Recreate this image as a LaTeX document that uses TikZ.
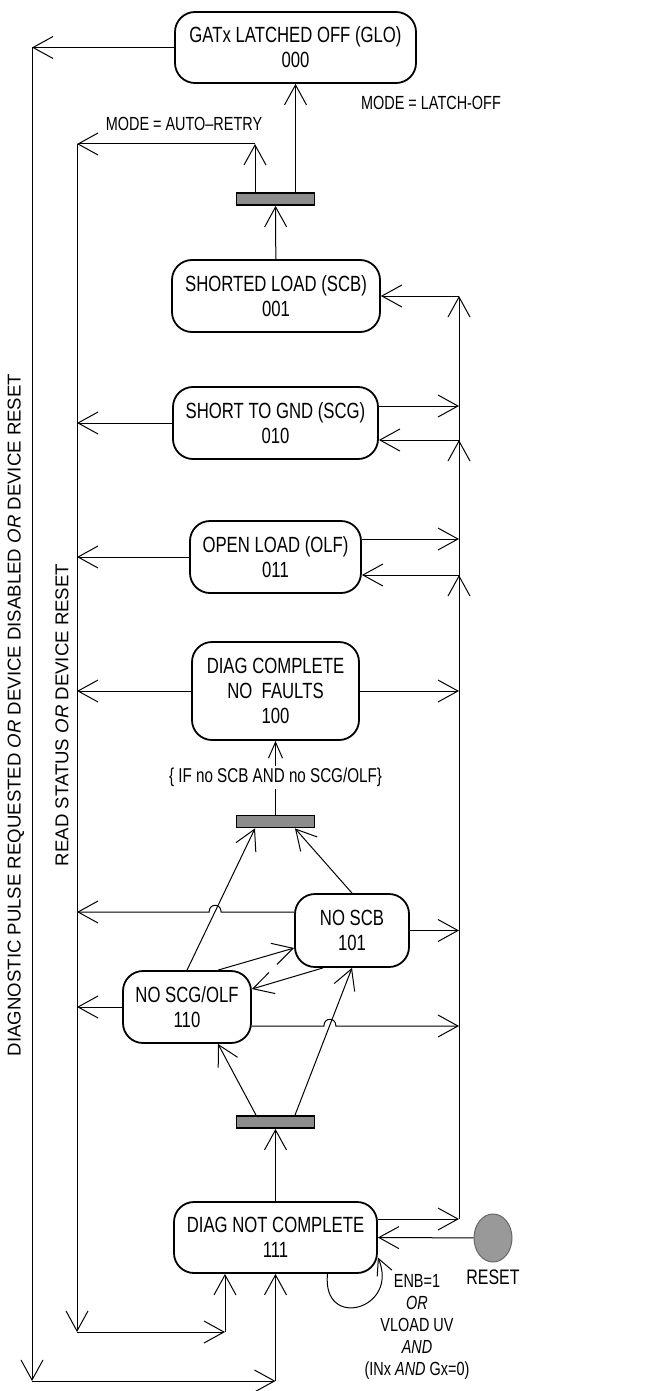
\documentclass[tikz,border=0pt]{standalone}
\usepackage{fontspec}
\setmainfont[FakeStretch=0.76]{Liberation Sans}
\newfontfamily\sidefont{Liberation Sans}
\usetikzlibrary{arrows.meta, calc, positioning, shapes.geometric}

\begin{document}
\begin{tikzpicture}[x=0.5pt, y=-0.5pt, line width=0.5pt,
    >={Straight Barb[length=10pt, width=11pt]},
    state/.style={draw, rounded corners=10pt, line width=0.9pt, align=center, inner sep=0pt,
      font=\fontsize{11}{12.5}\selectfont},
    bar/.style={draw, fill=black!45, line width=0.9pt, minimum width=39pt, minimum height=6pt, inner sep=0pt},
    lab/.style={font=\fontsize{9.5}{11}\selectfont, align=center},
    side/.style={font=\sidefont\fontsize{9.3}{11}\selectfont, rotate=90}]
  \useasboundingbox (0,0) rectangle (656,1391);
  \node[state, minimum width=120.5pt, minimum height=35.5pt] (glo) at (295.5,47.5) {GATx LATCHED OFF (GLO)\\000};
  \node[state, minimum width=104pt, minimum height=36pt] (scb) at (276,296) {SHORTED LOAD (SCB)\\001};
  \node[state, minimum width=102.5pt, minimum height=36pt] (scg) at (275.5,423) {SHORT TO GND (SCG)\\010};
  \node[state, minimum width=85.5pt, minimum height=36pt] (olf) at (275.5,557) {OPEN LOAD (OLF)\\011};
  \node[state, minimum width=83.5pt, minimum height=49pt] (dcnf) at (275.5,691) {DIAG COMPLETE\\NO~ FAULTS\\100};
  \node[state, minimum width=57pt, minimum height=36.5pt] (nscb) at (352,930.5) {NO SCB\\101};
  \node[state, minimum width=64pt, minimum height=36pt] (nscg) at (187,1007) {NO SCG/OLF\\110};
  \node[state, minimum width=101.5pt, minimum height=35.5pt] (dnc) at (275.5,1237.5) {DIAG NOT COMPLETE\\111};
  \node[bar] (barT) at (275.5,199) {};
  \node[bar] (barM) at (275.5,821.5) {};
  \node[bar] (barB) at (275.5,1122) {};
  \node[ellipse, draw=black!60, fill=black!40, minimum width=19pt, minimum height=24pt, inner sep=0pt] (reset) at (493,1238) {};
  \node[font=\fontsize{10.5}{12}\selectfont, below=0pt of reset] (resetlab) {RESET};
  \node[lab] (auto) at (184,124) {MODE = AUTO--RETRY};
  \node[lab] (latch) at (431,103) {MODE = LATCH-OFF};
  \node[lab] (enb) at (417,1327) {ENB=1\\\textit{OR}\\VLOAD UV\\\textit{AND}\\(INx \textit{AND} Gx=0)};
  \node[side] (diag) at (16,715) {DIAGNOSTIC PULSE REQUESTED \textit{OR} DEVICE DISABLED \textit{OR} DEVICE RESET};
  \node[side] (read) at (62,715) {READ STATUS \textit{OR} DEVICE RESET};

  \coordinate (oB) at (32,1381);
  \coordinate (iT) at (77,144);
  \coordinate (iB) at (77,1332);
  \coordinate (rB) at (459,1219);

  \draw[->] (glo.west) -- (glo.west -| oB) coordinate (o1);
  \draw[->] (o1) -- (oB);
  \draw[->] (oB) -- (oB -| dnc.south) coordinate (o2);
  \draw[->] (o2) -- (dnc.south);

  \draw[->] ($(barT.north)+(-20.5,0)$) coordinate (a) -- (a |- iT) coordinate (b);
  \draw[->] (b) -- (iT);
  \draw[->] (iT) -- (iB);
  \draw[->] (iB) -- ++(148,0) coordinate (c);
  \draw[->] (c) -- (c |- dnc.south);

  \draw[->] (barT.north -| glo.south) -- (glo.south);
  \draw[->] (scb) -- (barT);

  \draw[->] ($(dnc.east)+(0,-18.5)$) -- (rB);
  \draw[->] (rB) -- (rB |- scb.east) coordinate (r1);
  \draw[->] (r1) -- (scb.east);
  \foreach \n/\d in {scg/17, olf/18} {
    \path ($(\n.east)+(0,\d)$) coordinate (a);
    \draw[->] (rB) -- (a -| rB) coordinate (b);
    \draw[->] (b) -- (a);
  }
  \foreach \n/\d in {scg/-17, olf/-18, dcnf/0, nscb/0}
    \draw[->] ($(\n.east)+(0,\d)$) coordinate (a) -- (a -| rB);
  \foreach \n in {scg, olf, dcnf, nscg}
    \draw[->] (\n.west) -- (\n.west -| iB);

  \draw[->] ($(nscb.west)+(0,-18.5)$) coordinate (a) -- ++(-73,0) .. controls +(0,-9) and +(0,-9) .. ++(-12,0) -- (a -| iB);
  \draw[->] ($(nscg.east)+(0,19)$) coordinate (a) -- ++(72,0) .. controls +(0,-9) and +(0,-9) .. ++(12,0) -- (a -| rB);

  \draw[-{Straight Barb[length=8pt, width=7pt]}] (barM) -- (dcnf) node[midway, fill=white, inner sep=1pt, font=\fontsize{10}{12}\selectfont] (cond) {\{ IF no SCB AND no SCG/OLF\}};
  \draw[->] (nscg.north) -- ($(barM.south)+(-20.5,0)$);
  \draw[->] (nscb.north) -- ($(barM.south)+(19.5,0)$);
  \draw[->] ($(nscg.north)+(31,0)$) -- ($(nscb.west)+(0,17.5)$);
  \draw[->] ($(nscb.south)+(-29,0)$) -- ($(nscg.east)+(0,-18)$);
  \draw[->] ($(barB.north)+(-19.5,0)$) -- ($(nscg.south)+(31,0)$);
  \draw[->] ($(barB.north)+(19.5,0)$) -- (nscb.south);
  \draw[->] (dnc) -- (barB);

  \draw[->] (reset) -- (dnc.east);
  \draw[-{Straight Barb[length=8pt, width=8pt]}] ($(dnc.south)+(52,0)$) .. controls +(-6,57) and +(22,52) .. ($(dnc.east)+(0,20)$);
\end{tikzpicture}
\end{document}
